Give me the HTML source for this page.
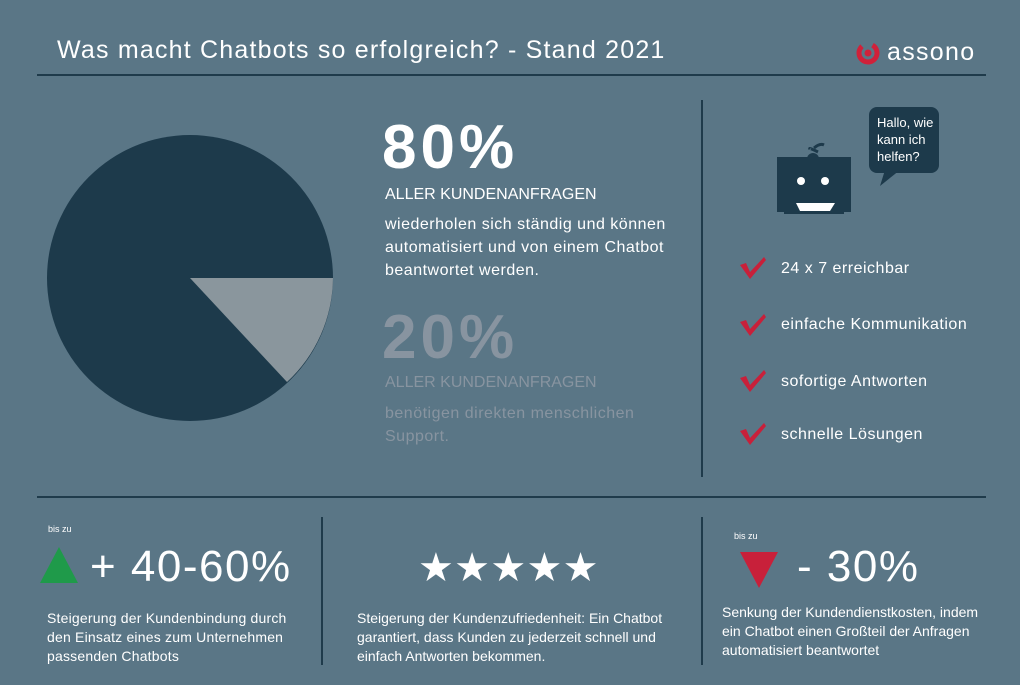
<!DOCTYPE html>
<html><head><style>
body{margin:0;width:1020px;height:685px;background:#5a7686;font-family:"Liberation Sans",sans-serif;color:#fff;position:relative;overflow:hidden}
.a{position:absolute;white-space:nowrap}
.l{position:absolute;background:#1f3b4b}
</style></head><body>
<div class="a" style="left:57px;top:36px;font-size:25px;letter-spacing:1.2px">Was macht Chatbots so erfolgreich? - Stand 2021</div>
<svg class="a" style="left:855px;top:40px" width="26" height="26"><circle cx="13" cy="13" r="9" fill="none" stroke="#d0213a" stroke-width="5" stroke-dasharray="45 12" transform="rotate(-60 13 13)"/><circle cx="13" cy="13" r="3.5" fill="#d0213a"/></svg>
<div class="a" style="left:887px;top:38px;font-size:25px;letter-spacing:1.3px">assono</div>
<div class="l" style="left:37px;top:74px;width:949px;height:2px"></div>
<svg class="a" style="left:0;top:0" width="400" height="440">
<circle cx="190" cy="278" r="143" fill="#1d3a4b"/>
<path d="M190 278 L333 278 A143 143 0 0 1 287 382 Z" fill="#8a969d"/>
</svg>
<div class="a" style="left:382px;top:112px;font-size:62px;font-weight:bold;letter-spacing:4px">80%</div>
<div class="a" style="left:385px;top:186px;font-size:16px">ALLER KUNDENANFRAGEN</div>
<div class="a" style="left:385px;top:213px;font-size:16px;line-height:23px;letter-spacing:0.5px">wiederholen sich ständig und können<br>automatisiert und von einem Chatbot<br>beantwortet werden.</div>
<div class="a" style="left:382px;top:302px;font-size:62px;font-weight:bold;color:#8894a0;letter-spacing:4px">20%</div>
<div class="a" style="left:385px;top:374px;font-size:16px;color:#8894a0">ALLER KUNDENANFRAGEN</div>
<div class="a" style="left:385px;top:402px;font-size:16px;line-height:23px;color:#8894a0;letter-spacing:0.5px">benötigen direkten menschlichen<br>Support.</div>
<div class="l" style="left:701px;top:100px;width:2px;height:377px"></div>
<svg class="a" style="left:770px;top:100px" width="180" height="125">
<path d="M48 52 q-10 -5 -8 -3 M44 48 q6 -5 10 -3" stroke="#1d3a4b" stroke-width="3" fill="none"/>
<circle cx="43" cy="59" r="6" fill="#1d3a4b"/>
<rect x="7" y="57" width="74" height="55" fill="#1d3a4b"/>
<rect x="14" y="100" width="60" height="14" fill="#1d3a4b"/>
<circle cx="31" cy="81" r="4" fill="#fff"/><circle cx="55" cy="81" r="4" fill="#fff"/>
<path d="M26 103 L65 103 L60 111 L30 111 Z" fill="#fff"/>
<rect x="99" y="7" width="70" height="66" rx="8" fill="#1d3a4b"/>
<path d="M115 70 L110 86 L130 70 Z" fill="#1d3a4b"/>
<text x="107" y="27" font-size="13" fill="#fff" font-family="Liberation Sans">Hallo, wie</text>
<text x="107" y="44" font-size="13" fill="#fff" font-family="Liberation Sans">kann ich</text>
<text x="107" y="61" font-size="13" fill="#fff" font-family="Liberation Sans">helfen?</text>
</svg>
<svg class="a" style="left:736px;top:255px" width="40" height="190">
<g fill="#c8203a">
<path d="M4 10 L10 8 L14 17 L28 2 L30 5 L14 24 Z"/>
<path transform="translate(0,57)" d="M4 10 L10 8 L14 17 L28 2 L30 5 L14 24 Z"/>
<path transform="translate(0,113)" d="M4 10 L10 8 L14 17 L28 2 L30 5 L14 24 Z"/>
<path transform="translate(0,166)" d="M4 10 L10 8 L14 17 L28 2 L30 5 L14 24 Z"/>
</g></svg>
<div class="a" style="left:781px;top:260px;font-size:16px;letter-spacing:0.5px">24 x 7 erreichbar</div>
<div class="a" style="left:781px;top:316px;font-size:16px;letter-spacing:0.5px">einfache Kommunikation</div>
<div class="a" style="left:781px;top:373px;font-size:16px;letter-spacing:0.5px">sofortige Antworten</div>
<div class="a" style="left:781px;top:426px;font-size:16px;letter-spacing:0.5px">schnelle Lösungen</div>
<div class="l" style="left:37px;top:496px;width:949px;height:2px"></div>
<div class="l" style="left:321px;top:517px;width:2px;height:148px"></div>
<div class="l" style="left:701px;top:517px;width:2px;height:148px"></div>
<div class="a" style="left:48px;top:524px;font-size:9px">bis zu</div>
<svg class="a" style="left:40px;top:545px" width="40" height="40"><path d="M0 38 L19 2 L38 38 Z" fill="#1f9a4a"/></svg>
<div class="a" style="left:90px;top:542px;font-size:44px;letter-spacing:1.5px">+ 40-60%</div>
<div class="a" style="left:47px;top:609px;font-size:14px;line-height:19px;letter-spacing:0.2px">Steigerung der Kundenbindung durch<br>den Einsatz eines zum Unternehmen<br>passenden Chatbots</div>
<div class="a" style="left:418px;top:545px;font-size:40px;letter-spacing:0.3px">★★★★★</div>
<div class="a" style="left:357px;top:609px;font-size:14px;line-height:19px">Steigerung der Kundenzufriedenheit: Ein Chatbot<br>garantiert, dass Kunden zu jederzeit schnell und<br>einfach Antworten bekommen.</div>
<div class="a" style="left:734px;top:531px;font-size:9px">bis zu</div>
<svg class="a" style="left:740px;top:550px" width="40" height="40"><path d="M0 2 L38 2 L19 38 Z" fill="#c8203a"/></svg>
<div class="a" style="left:797px;top:542px;font-size:44px;letter-spacing:1.5px">- 30%</div>
<div class="a" style="left:722px;top:603px;font-size:14px;line-height:19px">Senkung der Kundendienstkosten, indem<br>ein Chatbot einen Großteil der Anfragen<br>automatisiert beantwortet</div>
</body></html>
